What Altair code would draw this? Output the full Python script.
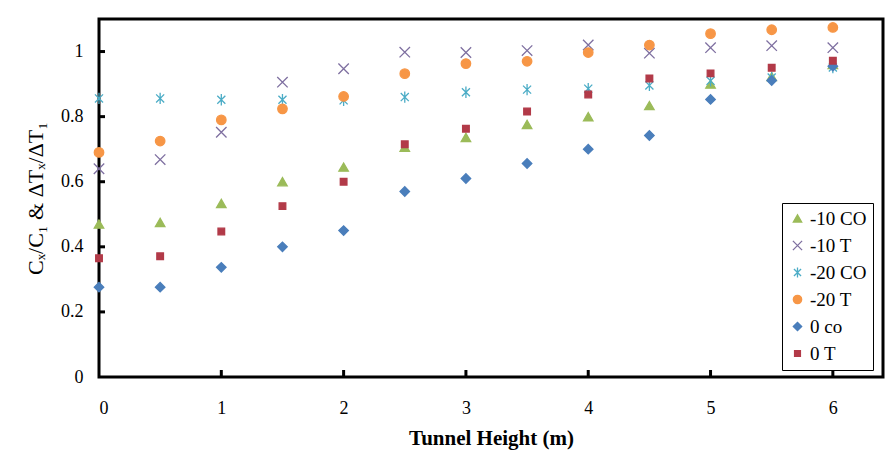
import altair as alt
import pandas as pd

heights = [0, 0.5, 1, 1.5, 2, 2.5, 3, 3.5, 4, 4.5, 5, 5.5, 6]
series_names = ["-10 CO", "-10 T", "-20 CO", "-20 T", "0 co", "0 T"]
m10_co = [0.47, 0.475, 0.533, 0.60, 0.645, 0.706, 0.736, 0.776, 0.80, 0.834, 0.90, 0.923, 0.96]
m10_t = [0.64, 0.668, 0.752, 0.906, 0.947, 0.998, 0.997, 1.003, 1.02, 0.995, 1.012, 1.018, 1.012]
m20_co = [0.856, 0.856, 0.852, 0.852, 0.85, 0.86, 0.875, 0.883, 0.886, 0.896, 0.91, 0.92, 0.951]
m20_t = [0.69, 0.725, 0.79, 0.824, 0.862, 0.932, 0.963, 0.97, 0.997, 1.02, 1.055, 1.067, 1.074]
z_co = [0.276, 0.276, 0.337, 0.40, 0.45, 0.57, 0.61, 0.656, 0.70, 0.742, 0.853, 0.911, 0.955]
z_t = [0.365, 0.371, 0.447, 0.525, 0.60, 0.715, 0.763, 0.816, 0.868, 0.917, 0.933, 0.95, 0.972]
all_series = [m10_co, m10_t, m20_co, m20_t, z_co, z_t]

x_ticks = [0, 1, 2, 3, 4, 5, 6]
y_ticks = [0, 0.2, 0.4, 0.6, 0.8, 1.0]

colors = ["#9BBB59", "#7E6FA0", "#4BACC6", "#F79646", "#4A7EBB", "#B23A48"]
shapes = [
    "triangle-up",
    "M-1.1,-1.1L1.1,1.1M-1.1,1.1L1.1,-1.1",
    "M0,-1.2L0,1.2M-0.85,-0.85L0.85,0.85M-0.85,0.85L0.85,-0.85",
    "circle",
    "diamond",
    "M-0.7,-0.7L0.7,-0.7L0.7,0.7L-0.7,0.7Z",
]
FONT = "Liberation Serif"

rows = []
for name, vals in zip(series_names, all_series):
    for h, v in zip(heights, vals):
        rows.append({"height": h, "ratio": v, "series": name})
df = pd.DataFrame(rows)

xscale = alt.Scale(domain=[0, 6.41], nice=False, zero=False)
yscale = alt.Scale(domain=[0, 1.1], nice=False)

legend = alt.Legend(
    title=None,
    orient="none",
    legendX=683,
    legendY=184,
    strokeColor="black",
    fillColor="white",
    padding=6,
    rowPadding=7,
    labelFont=FONT,
    labelFontSize=19,
    labelColor="black",
    labelOffset=3,
    symbolSize=70,
    symbolStrokeWidth=1.3,
)

points = alt.Chart(df).mark_point(filled=True, size=90, strokeWidth=1.3, opacity=1).encode(
    x=alt.X(
        "height:Q",
        scale=xscale,
        axis=alt.Axis(
            values=x_ticks, format="d", ticks=False, domain=False, grid=False,
            labelPadding=22, labelFont=FONT, labelFontSize=18, labelColor="black",
            title="Tunnel Height (m)", titleFont=FONT, titleFontSize=21,
            titleFontWeight="bold", titleColor="black", titlePadding=10,
        ),
    ),
    y=alt.Y(
        "ratio:Q",
        scale=yscale,
        axis=alt.Axis(
            values=y_ticks, format="~g", ticks=False, domain=False, grid=False,
            labelPadding=16, labelFont=FONT, labelFontSize=18, labelColor="black",
            title="Cₓ/C₁ &  ΔTₓ/ΔT₁", titleFont=FONT, titleFontSize=22,
            titleFontWeight="normal", titleColor="black", titlePadding=13,
        ),
    ),
    color=alt.Color("series:N", scale=alt.Scale(domain=series_names, range=colors), legend=legend),
    stroke=alt.Stroke("series:N", scale=alt.Scale(domain=series_names, range=colors), legend=legend),
    shape=alt.Shape("series:N", scale=alt.Scale(domain=series_names, range=shapes), legend=legend),
)

ytick_df = pd.DataFrame({"ratio": y_ticks[1:]})
xtick_df = pd.DataFrame({"height": x_ticks[1:]})

yt = alt.Chart(ytick_df).mark_rule(color="black", strokeWidth=3).encode(
    y=alt.Y("ratio:Q", scale=yscale), x=alt.value(0), x2=alt.value(6)
)
xt = alt.Chart(xtick_df).mark_rule(color="black", strokeWidth=3).encode(
    x=alt.X("height:Q", scale=xscale), y=alt.value(358), y2=alt.value(351)
)

chart = alt.layer(yt, xt, points).properties(
    width=784,
    height=358,
    autosize="none",
    padding={"left": 91, "top": 11, "right": 2, "bottom": 77},
    background="white",
).configure_view(stroke="black", strokeWidth=3)

chart.save("out.html", embed_options={"renderer": "svg", "actions": False})
